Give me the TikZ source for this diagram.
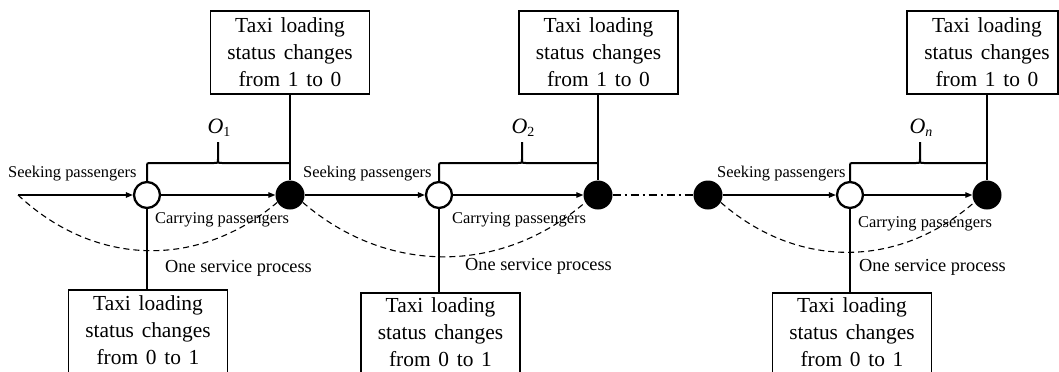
\documentclass[tikz,border=0pt]{standalone}
\usepackage{fontspec}
\setmainfont{Liberation Serif}
\usetikzlibrary{arrows.meta}
\newcommand{\olab}[1]{{\fontsize{22}{22}\selectfont\itshape O}\raisebox{-3bp}{\fontsize{14}{14}\selectfont #1}}
\newcommand{\boxfont}{\fontsize{21.5}{27}\selectfont\spaceskip=0.36em plus 0.1em\relax}
\begin{document}
\begin{tikzpicture}[x=1bp,y=-1bp,
  boxframe/.style={draw, line width=1.3bp, minimum width=159bp, minimum height=83bp, inner sep=0},
  boxtext/.style={align=center, inner sep=0, font=\boxfont},
  opencirc/.style={circle, draw, line width=2.3bp, fill=white, minimum size=26bp, inner sep=0},
  fullcirc/.style={circle, fill=black, minimum size=29bp, inner sep=0},
  flow/.style={line width=1.2bp, -{Triangle[length=7bp,width=5.5bp]}},
  link/.style={line width=1.4bp},
  bracestyle/.style={line width=2bp},
  servarc/.style={line width=1.1bp, dash pattern=on 6bp off 4bp},
  gapline/.style={line width=1.1bp, dash pattern=on 8bp off 4bp on 2bp off 4bp},
  small/.style={font=\fontsize{16.5}{18}\selectfont, inner sep=0},
  proc/.style={font=\fontsize{18.4}{20}\selectfont, inner sep=0},
  olabel/.style={inner sep=0}
]
\useasboundingbox (0,0) rectangle (1059,371);
\clip (0,0) rectangle (1059,371);

% circles
\coordinate (s0) at (18,195);
\node[opencirc] (o1) at (147,195) {};
\node[fullcirc] (f1) at (290,195) {};
\node[opencirc] (o2) at (439,195) {};
\node[fullcirc] (f2) at (598,195) {};
\node[fullcirc] (f3) at (708,195) {};
\node[opencirc] (o3) at (850,195) {};
\node[fullcirc] (f4) at (987,195) {};

% top boxes
\node[boxframe] (t1) at (290,52.5) {};
\node[boxtext] at (t1) {Taxi loading\\status changes\\from 1 to 0};
\node[boxframe] (t2) at (598.5,52.5) {};
\node[boxtext] at (t2) {Taxi loading\\status changes\\from 1 to 0};
\node[boxframe, minimum width=151bp] (t3) at (982.5,52.5) {};
\node[boxtext] at (987,52.5) {Taxi loading\\status changes\\from 1 to 0};

% bottom boxes
\node[boxframe] (b1) at (148,331.5) {};
\node[boxtext] at (148,330.5) {Taxi loading\\status changes\\from 0 to 1};
\node[boxframe] (b2) at (440.5,334.5) {};
\node[boxtext] at (440.5,332) {Taxi loading\\status changes\\from 0 to 1};
\node[boxframe] (b3) at (852,334.5) {};
\node[boxtext] at (852,332) {Taxi loading\\status changes\\from 0 to 1};

% flow arrows
\draw[flow] (s0) -- (o1.west);
\draw[flow] (o1.east) -- (f1.west);
\draw[flow] (f1.east) -- (o2.west);
\draw[flow] (o2.east) -- (f2.west);
\draw[gapline] (f2.east) -- (f3.west);
\draw[flow] (f3.east) -- (o3.west);
\draw[flow] (o3.east) -- (f4.west);

% connectors to boxes
\draw[link] (t1.south -| f1) -- (f1.north);
\draw[link] (t2.south -| f2) -- (f2.north);
\draw[link] (t3.south -| f4) -- (f4.north);
\draw[link] (o1.south) -- (b1.north -| o1);
\draw[link] (o2.south) -- (b2.north -| o2);
\draw[link] (o3.south) -- (b3.north -| o3);

% braces
\draw[bracestyle] (o1.north) -- (147,167) .. controls (147,163) .. (151,163) -- (214,163) .. controls (218,163) .. (218,159) -- (218,142);
\draw[bracestyle] (218,159) .. controls (218,163) .. (222,163) -- (f1 |- 0,163);
\draw[bracestyle] (o2.north) -- (439,167) .. controls (439,163) .. (443,163) -- (518,163) .. controls (522,163) .. (522,159) -- (522,142);
\draw[bracestyle] (522,159) .. controls (522,163) .. (526,163) -- (f2 |- 0,163);
\draw[bracestyle] (o3.north) -- (850,167) .. controls (850,163) .. (854,163) -- (916,163) .. controls (920,163) .. (920,159) -- (920,142);
\draw[bracestyle] (920,159) .. controls (920,163) .. (924,163) -- (f4 |- 0,163);

% O labels
\node[olabel] (l1) at (219,128) {\olab{1}};
\node[olabel] (l2) at (523,128) {\olab{2}};
\node[olabel] (l3) at (921,128) {\olab{\itshape n}};

% service arcs
\draw[servarc] (s0) .. controls (96,268) and (200,268) .. (f1.-150);
\draw[servarc] (f1.-30) .. controls (387,275) and (501,275) .. (f2.-150);
\draw[servarc] (f3.-30) .. controls (797,269) and (898,269) .. (f4.-150);

% labels
\node[small, anchor=base west] (sk1) at (8,177) {Seeking passengers};
\node[small, anchor=base west] (sk2) at (303,177) {Seeking passengers};
\node[small, anchor=base west] (sk3) at (717,177) {Seeking passengers};
\node[small, anchor=base west] (cp1) at (155,223) {Carrying passengers};
\node[small, anchor=base west] (cp2) at (452,223) {Carrying passengers};
\node[small, anchor=base west] (cp3) at (858,227) {Carrying passengers};
\node[proc, anchor=base west] (sp1) at (165,272) {One service process};
\node[proc, anchor=base west] (sp2) at (465,270) {One service process};
\node[proc, anchor=base west] (sp3) at (859,271) {One service process};
\end{tikzpicture}
\end{document}
